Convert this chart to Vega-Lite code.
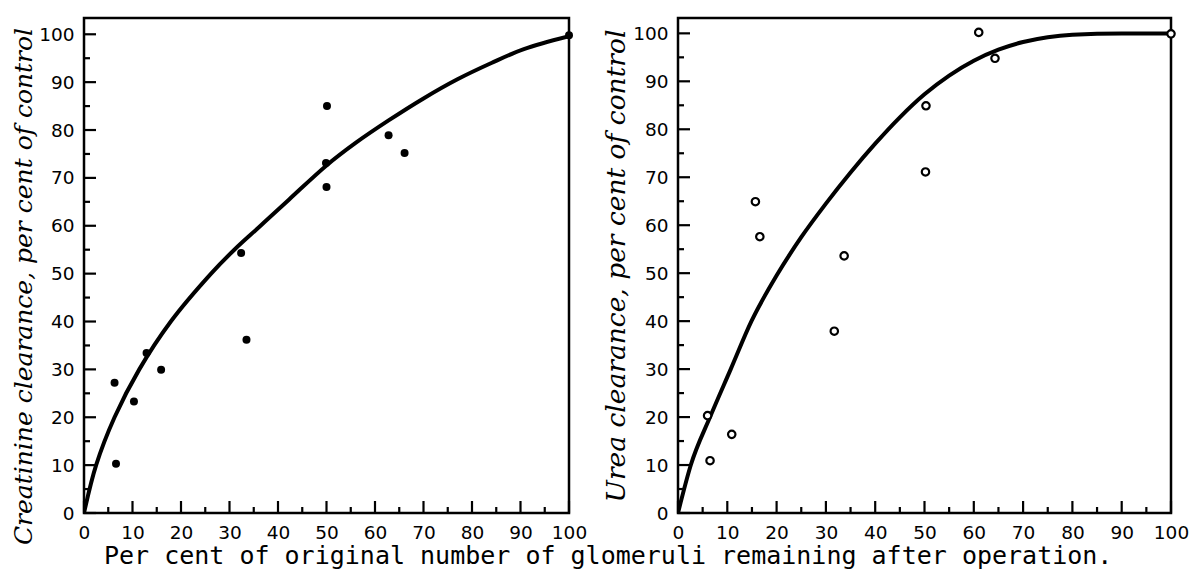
{
  "$schema": "https://vega.github.io/schema/vega-lite/v6.json",
  "background": "white",
  "padding": {"left": 10, "top": 16, "right": 5, "bottom": 0},
  "bounds": "flush",
  "spacing": 109,
  "title": {
    "text": "Per cent of original number of glomeruli remaining after operation.",
    "orient": "bottom",
    "anchor": "middle",
    "font": "DejaVu Sans Mono",
    "fontSize": 25,
    "fontWeight": "normal",
    "color": "black",
    "offset": -2,
    "dx": 8
  },
  "config": {
    "view": {"stroke": "black", "strokeWidth": 2.5},
    "axis": {
      "domain": false,
      "grid": false,
      "ticks": false,
      "labelFont": "DejaVu Sans",
      "labelFontSize": 18.5,
      "labelColor": "black",
      "labelFlush": false,
      "labelOverlap": false,
      "titleColor": "black",
      "titleFont": "DejaVu Serif",
      "titleFontStyle": "italic",
      "titleFontWeight": "normal"
    },
    "axisX": {"labelPadding": 10, "title": null},
    "axisY": {"labelPadding": 10}
  },
  "datasets": {
    "ticks": [
      {"v": 0, "major": 1}, {"v": 5, "major": 0}, {"v": 10, "major": 1}, {"v": 15, "major": 0},
      {"v": 20, "major": 1}, {"v": 25, "major": 0}, {"v": 30, "major": 1}, {"v": 35, "major": 0},
      {"v": 40, "major": 1}, {"v": 45, "major": 0}, {"v": 50, "major": 1}, {"v": 55, "major": 0},
      {"v": 60, "major": 1}, {"v": 65, "major": 0}, {"v": 70, "major": 1}, {"v": 75, "major": 0},
      {"v": 80, "major": 1}, {"v": 85, "major": 0}, {"v": 90, "major": 1}, {"v": 95, "major": 0},
      {"v": 100, "major": 1}
    ],
    "creatPts": [
      {"pct": 6.3, "clear": 27.2}, {"pct": 6.6, "clear": 10.3}, {"pct": 10.3, "clear": 23.3},
      {"pct": 12.9, "clear": 33.4}, {"pct": 15.9, "clear": 29.9}, {"pct": 32.4, "clear": 54.3},
      {"pct": 33.5, "clear": 36.2}, {"pct": 50.1, "clear": 85.0}, {"pct": 49.9, "clear": 73.1},
      {"pct": 50.0, "clear": 68.1}, {"pct": 62.8, "clear": 78.9}, {"pct": 66.1, "clear": 75.2},
      {"pct": 100, "clear": 99.8}
    ],
    "creatCurve": [
      {"pct": 0, "clear": 0}, {"pct": 2.5, "clear": 10}, {"pct": 6.3, "clear": 20},
      {"pct": 11.4, "clear": 30}, {"pct": 17.9, "clear": 40}, {"pct": 26.2, "clear": 50},
      {"pct": 31, "clear": 55}, {"pct": 36.4, "clear": 60}, {"pct": 42.3, "clear": 65.5},
      {"pct": 50, "clear": 72.6}, {"pct": 56, "clear": 77.3}, {"pct": 62.8, "clear": 82},
      {"pct": 70, "clear": 86.6}, {"pct": 77, "clear": 90.6}, {"pct": 84, "clear": 94},
      {"pct": 90.7, "clear": 96.9}, {"pct": 100, "clear": 99.6}
    ],
    "ureaPts": [
      {"pct": 6.0, "clear": 20.3}, {"pct": 6.5, "clear": 10.9}, {"pct": 10.9, "clear": 16.4},
      {"pct": 15.7, "clear": 64.9}, {"pct": 16.6, "clear": 57.6}, {"pct": 31.7, "clear": 37.9},
      {"pct": 33.7, "clear": 53.6}, {"pct": 50.3, "clear": 84.9}, {"pct": 50.2, "clear": 71.1},
      {"pct": 61.0, "clear": 100.2}, {"pct": 64.3, "clear": 94.8}, {"pct": 100, "clear": 99.9}
    ],
    "ureaCurve": [
      {"pct": 0, "clear": 0}, {"pct": 2.6, "clear": 10}, {"pct": 6.5, "clear": 20},
      {"pct": 10.7, "clear": 30}, {"pct": 14.9, "clear": 40}, {"pct": 20, "clear": 49.5},
      {"pct": 25, "clear": 57.5}, {"pct": 30, "clear": 64.5}, {"pct": 35, "clear": 71},
      {"pct": 40, "clear": 77}, {"pct": 45, "clear": 82.5}, {"pct": 50, "clear": 87.3},
      {"pct": 55, "clear": 91.2}, {"pct": 60, "clear": 94.3}, {"pct": 65, "clear": 96.6},
      {"pct": 70, "clear": 98.2}, {"pct": 75, "clear": 99.2}, {"pct": 80, "clear": 99.7},
      {"pct": 90, "clear": 99.95}, {"pct": 100, "clear": 99.95}
    ]
  },
  "hconcat": [
    {
      "width": 485,
      "height": 495,
      "layer": [
        {
          "data": {"name": "creatCurve"},
          "mark": {"type": "line", "interpolate": "catmull-rom", "color": "black", "strokeWidth": 4, "clip": true},
          "encoding": {
            "x": {"field": "pct", "type": "quantitative", "scale": {"domain": [0, 100], "nice": false},
                  "axis": {"values": [0, 10, 20, 30, 40, 50, 60, 70, 80, 90, 100]}},
            "y": {"field": "clear", "type": "quantitative", "scale": {"domain": [0, 103.4], "nice": false},
                  "axis": {"title": "Creatinine clearance, per cent of control", "titleFontSize": 25, "titlePadding": 2, "titleY": 268,
                           "values": [0, 10, 20, 30, 40, 50, 60, 70, 80, 90, 100]}}
          }
        },
        {
          "data": {"name": "ticks"},
          "transform": [{"filter": "datum.major == 1"}],
          "layer": [
            {"mark": {"type": "rule", "color": "black", "strokeWidth": 2.2, "y2Offset": -12},
             "encoding": {"x": {"field": "v", "type": "quantitative"}, "y": {"datum": 0}, "y2": {"datum": 0}}},
            {"mark": {"type": "rule", "color": "black", "strokeWidth": 2.2, "x2Offset": 12},
             "encoding": {"y": {"field": "v", "type": "quantitative"}, "x": {"datum": 0}, "x2": {"datum": 0}}}
          ]
        },
        {
          "data": {"name": "ticks"},
          "transform": [{"filter": "datum.major == 0"}],
          "layer": [
            {"mark": {"type": "rule", "color": "black", "strokeWidth": 2.2, "y2Offset": -6},
             "encoding": {"x": {"field": "v", "type": "quantitative"}, "y": {"datum": 0}, "y2": {"datum": 0}}},
            {"mark": {"type": "rule", "color": "black", "strokeWidth": 2.2, "x2Offset": 6},
             "encoding": {"y": {"field": "v", "type": "quantitative"}, "x": {"datum": 0}, "x2": {"datum": 0}}}
          ]
        },
        {
          "data": {"name": "creatPts"},
          "mark": {"type": "circle", "color": "black", "opacity": 1, "size": 64},
          "encoding": {
            "x": {"field": "pct", "type": "quantitative"},
            "y": {"field": "clear", "type": "quantitative"}
          }
        }
      ]
    },
    {
      "width": 493,
      "height": 495,
      "layer": [
        {
          "data": {"name": "ureaCurve"},
          "mark": {"type": "line", "interpolate": "monotone", "color": "black", "strokeWidth": 4, "clip": true},
          "encoding": {
            "x": {"field": "pct", "type": "quantitative", "scale": {"domain": [0, 100], "nice": false},
                  "axis": {"values": [0, 10, 20, 30, 40, 50, 60, 70, 80, 90, 100]}},
            "y": {"field": "clear", "type": "quantitative", "scale": {"domain": [0, 103.2], "nice": false},
                  "axis": {"title": "Urea clearance, per cent of control", "titleFontSize": 26.5, "titlePadding": 2,
                           "values": [0, 10, 20, 30, 40, 50, 60, 70, 80, 90, 100]}}
          }
        },
        {
          "data": {"name": "ticks"},
          "transform": [{"filter": "datum.major == 1"}],
          "layer": [
            {"mark": {"type": "rule", "color": "black", "strokeWidth": 2.2, "y2Offset": -12},
             "encoding": {"x": {"field": "v", "type": "quantitative"}, "y": {"datum": 0}, "y2": {"datum": 0}}},
            {"mark": {"type": "rule", "color": "black", "strokeWidth": 2.2, "x2Offset": 12},
             "encoding": {"y": {"field": "v", "type": "quantitative"}, "x": {"datum": 0}, "x2": {"datum": 0}}}
          ]
        },
        {
          "data": {"name": "ticks"},
          "transform": [{"filter": "datum.major == 0"}],
          "layer": [
            {"mark": {"type": "rule", "color": "black", "strokeWidth": 2.2, "y2Offset": -6},
             "encoding": {"x": {"field": "v", "type": "quantitative"}, "y": {"datum": 0}, "y2": {"datum": 0}}},
            {"mark": {"type": "rule", "color": "black", "strokeWidth": 2.2, "x2Offset": 6},
             "encoding": {"y": {"field": "v", "type": "quantitative"}, "x": {"datum": 0}, "x2": {"datum": 0}}}
          ]
        },
        {
          "data": {"name": "ureaPts"},
          "mark": {"type": "point", "shape": "circle", "color": "black", "fill": "white", "filled": false, "opacity": 1, "strokeWidth": 2.2, "size": 55},
          "encoding": {
            "x": {"field": "pct", "type": "quantitative"},
            "y": {"field": "clear", "type": "quantitative"}
          }
        }
      ]
    }
  ]
}
